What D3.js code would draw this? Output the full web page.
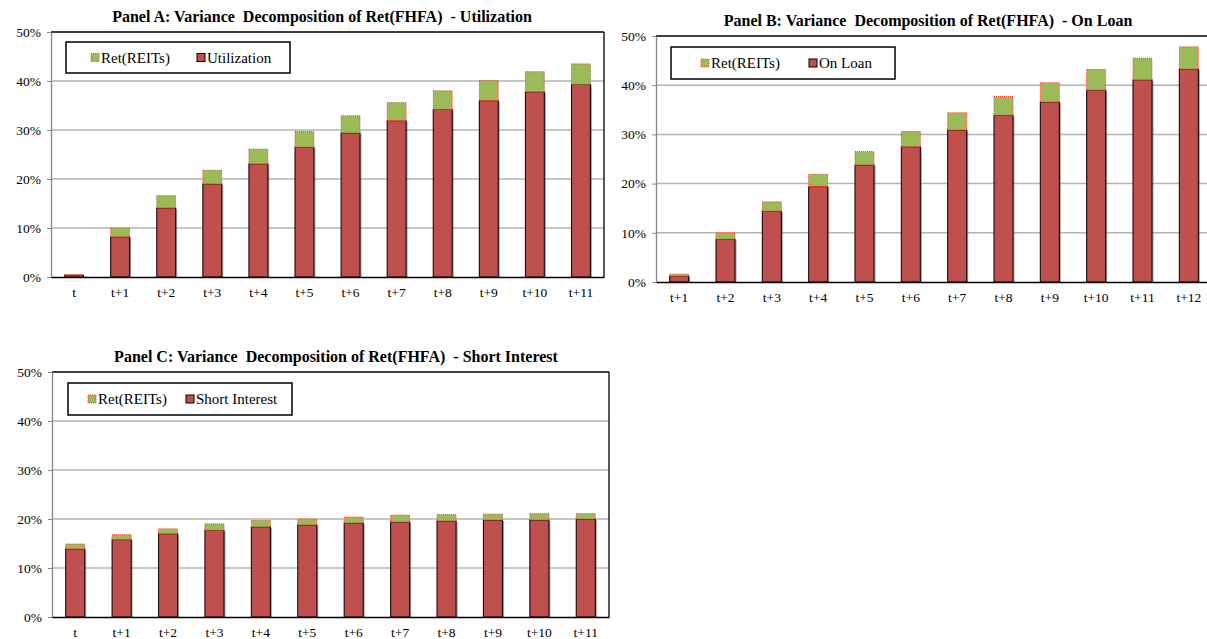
<!DOCTYPE html>
<html>
<head>
<meta charset="utf-8">
<script src="https://cdn.jsdelivr.net/npm/d3@7"></script>
<style>
  body { margin: 0; background: #fff; }
  svg text { font-family: "Liberation Serif", "Times New Roman", serif; }
</style>
</head>
<body>
<div id="chart"></div>
<script>
// categories
const catsA = ["t", "t+1", "t+2", "t+3", "t+4", "t+5", "t+6", "t+7", "t+8", "t+9", "t+10", "t+11"];
const catsB = ["t+1", "t+2", "t+3", "t+4", "t+5", "t+6", "t+7", "t+8", "t+9", "t+10", "t+11", "t+12"];
const catsC = ["t", "t+1", "t+2", "t+3", "t+4", "t+5", "t+6", "t+7", "t+8", "t+9", "t+10", "t+11"];

// Panel A: Utilization share and Ret(REITs) share (%)
const utilization = [0.35, 8.2, 14.1, 19.0, 23.1, 26.5, 29.4, 31.9, 34.2, 36.0, 37.8, 39.3];
const reitsA = [0.15, 1.8, 2.5, 2.8, 3.0, 3.2, 3.5, 3.7, 3.8, 4.1, 4.1, 4.2];

// Panel B: On Loan share and Ret(REITs) share (%)
const onLoan = [1.2, 8.7, 14.4, 19.4, 23.8, 27.5, 30.9, 33.9, 36.6, 39.0, 41.1, 43.3];
const reitsB = [0.4, 1.3, 1.9, 2.5, 2.7, 3.1, 3.5, 3.8, 3.9, 4.2, 4.4, 4.5];

// Panel C: Short Interest share and Ret(REITs) share (%)
const shortInterest = [13.9, 15.8, 17.0, 17.7, 18.4, 18.8, 19.2, 19.4, 19.6, 19.8, 19.8, 20.0];
const reitsC = [1.0, 1.0, 1.0, 1.3, 1.3, 1.2, 1.2, 1.4, 1.3, 1.2, 1.3, 1.1];

const yTicks = [0, 10, 20, 30, 40, 50];

const FONT = "'Liberation Serif', 'Times New Roman', serif";

const svg = d3.select("#chart").append("svg")
    .attr("width", 1207)
    .attr("height", 639);

svg.append("rect").attr("width", 1207).attr("height", 639).attr("fill", "#fff");

function drawPanel(cfg) {
    const { left, right, top, bottom } = cfg;
    const g = svg.append("g");

    const x = d3.scaleBand()
        .domain(cfg.cats)
        .range([left, right])
        .paddingInner(0.59)
        .paddingOuter(0.295);

    const y = d3.scaleLinear().domain([0, 50]).range([bottom, top]);

    // gridlines
    g.selectAll(".grid")
        .data(yTicks.filter(d => d > 0 && d < 50))
        .enter().append("line")
        .attr("x1", left).attr("x2", right)
        .attr("y1", d => y(d)).attr("y2", d => y(d))
        .attr("stroke", "#b4b4b4")
        .attr("stroke-width", 1.5);

    // plot border (top / right)
    g.append("line").attr("x1", left).attr("x2", right).attr("y1", top).attr("y2", top)
        .attr("stroke", "#000").attr("stroke-width", 1.3);
    g.append("line").attr("x1", right).attr("x2", right).attr("y1", top).attr("y2", bottom)
        .attr("stroke", "#000").attr("stroke-width", 1.3);

    // y axis
    const yAxis = g.append("g")
        .attr("transform", `translate(${left},0)`)
        .call(d3.axisLeft(y).tickValues(yTicks).tickFormat(d => d + "%").tickSize(4).tickSizeOuter(0));
    yAxis.select(".domain").attr("stroke", "#888").attr("stroke-width", 1.3);
    yAxis.selectAll(".tick line").attr("stroke", "#888");
    yAxis.selectAll("text")
        .attr("x", -10)
        .style("font-family", FONT)
        .style("font-size", "13.5px")
        .attr("fill", "#000");

    // soft shadow on the right of the main bars
    g.selectAll(".shadow")
        .data(cfg.main)
        .enter().append("rect")
        .attr("x", (d, i) => x(cfg.cats[i]) + 1.5)
        .attr("y", d => y(d) + 1)
        .attr("width", x.bandwidth())
        .attr("height", d => Math.max(0, y(0) - y(d) - 1))
        .attr("fill", "#555")
        .attr("opacity", 0.55);

    // bars: main component
    g.selectAll(".main")
        .data(cfg.main)
        .enter().append("rect")
        .attr("x", (d, i) => x(cfg.cats[i]))
        .attr("y", d => y(d))
        .attr("width", x.bandwidth())
        .attr("height", d => y(0) - y(d))
        .attr("fill", "#c0504d")
        .attr("stroke", "#1a0a0a")
        .attr("stroke-width", 1.1);

    // bars: Ret(REITs) component
    g.selectAll(".reits")
        .data(cfg.reits)
        .enter().append("rect")
        .attr("x", (d, i) => x(cfg.cats[i]))
        .attr("y", (d, i) => y(cfg.main[i] + d))
        .attr("width", x.bandwidth())
        .attr("height", (d, i) => y(cfg.main[i]) - y(cfg.main[i] + d))
        .attr("fill", "#9bbb59")
        .attr("stroke", "#ff3b30")
        .attr("stroke-width", 1)
        .attr("stroke-dasharray", "1,1");

    // x axis
    const xAxis = g.append("g")
        .attr("transform", `translate(0,${bottom})`)
        .call(d3.axisBottom(x).tickSize(0).tickSizeOuter(0));
    xAxis.select(".domain").attr("stroke", "#000").attr("stroke-width", 1.5);
    xAxis.selectAll("text")
        .attr("dy", "1.25em")
        .style("font-family", FONT)
        .style("font-size", "13.5px")
        .attr("fill", "#000");

    // title
    svg.append("text")
        .attr("x", cfg.titleX)
        .attr("y", cfg.titleY)
        .attr("text-anchor", "middle")
        .attr("dominant-baseline", "middle")
        .style("font-family", FONT)
        .style("font-size", "16px")
        .style("font-weight", "bold")
        .style("white-space", "pre")
        .text(cfg.title);

    // legend
    const lg = svg.append("g").attr("transform", `translate(${cfg.legend[0]},${cfg.legend[1]})`);
    lg.append("rect")
        .attr("width", cfg.legend[2]).attr("height", cfg.legend[3])
        .attr("fill", "#fff").attr("stroke", "#000").attr("stroke-width", 1.5);
    const ly = cfg.legend[3] / 2;
    lg.append("rect")
        .attr("x", cfg.legendItems[0]).attr("y", ly - 4).attr("width", 8).attr("height", 8)
        .attr("fill", "#9bbb59").attr("stroke", "#ff3b30").attr("stroke-width", 1).attr("stroke-dasharray", "1,1");
    lg.append("text")
        .attr("x", cfg.legendItems[0] + 10).attr("y", ly).attr("dy", "0.35em")
        .style("font-family", FONT)
        .style("font-size", "15px").text("Ret(REITs)");
    lg.append("rect")
        .attr("x", cfg.legendItems[1]).attr("y", ly - 4).attr("width", 8).attr("height", 8)
        .attr("fill", "#c0504d").attr("stroke", "#000").attr("stroke-width", 1);
    lg.append("text")
        .attr("x", cfg.legendItems[1] + 10).attr("y", ly).attr("dy", "0.35em")
        .style("font-family", FONT)
        .style("font-size", "15px").text(cfg.mainName);
}

drawPanel({
    cats: catsA, main: utilization, reits: reitsA, mainName: "Utilization",
    left: 51, right: 604, top: 32, bottom: 277,
    title: "Panel A: Variance  Decomposition of Ret(FHFA)  - Utilization",
    titleX: 322, titleY: 18,
    legend: [66, 42, 224, 31], legendItems: [25, 131]
});

drawPanel({
    cats: catsB, main: onLoan, reits: reitsB, mainName: "On Loan",
    left: 656, right: 1212, top: 36, bottom: 282,
    title: "Panel B: Variance  Decomposition of Ret(FHFA)  - On Loan",
    titleX: 928, titleY: 22,
    legend: [671, 47, 224, 32], legendItems: [30, 138]
});

drawPanel({
    cats: catsC, main: shortInterest, reits: reitsC, mainName: "Short Interest",
    left: 52, right: 609, top: 372, bottom: 617,
    title: "Panel C: Variance  Decomposition of Ret(FHFA)  - Short Interest",
    titleX: 336, titleY: 358,
    legend: [68, 383, 224, 32], legendItems: [20, 118]
});
</script>
</body>
</html>
